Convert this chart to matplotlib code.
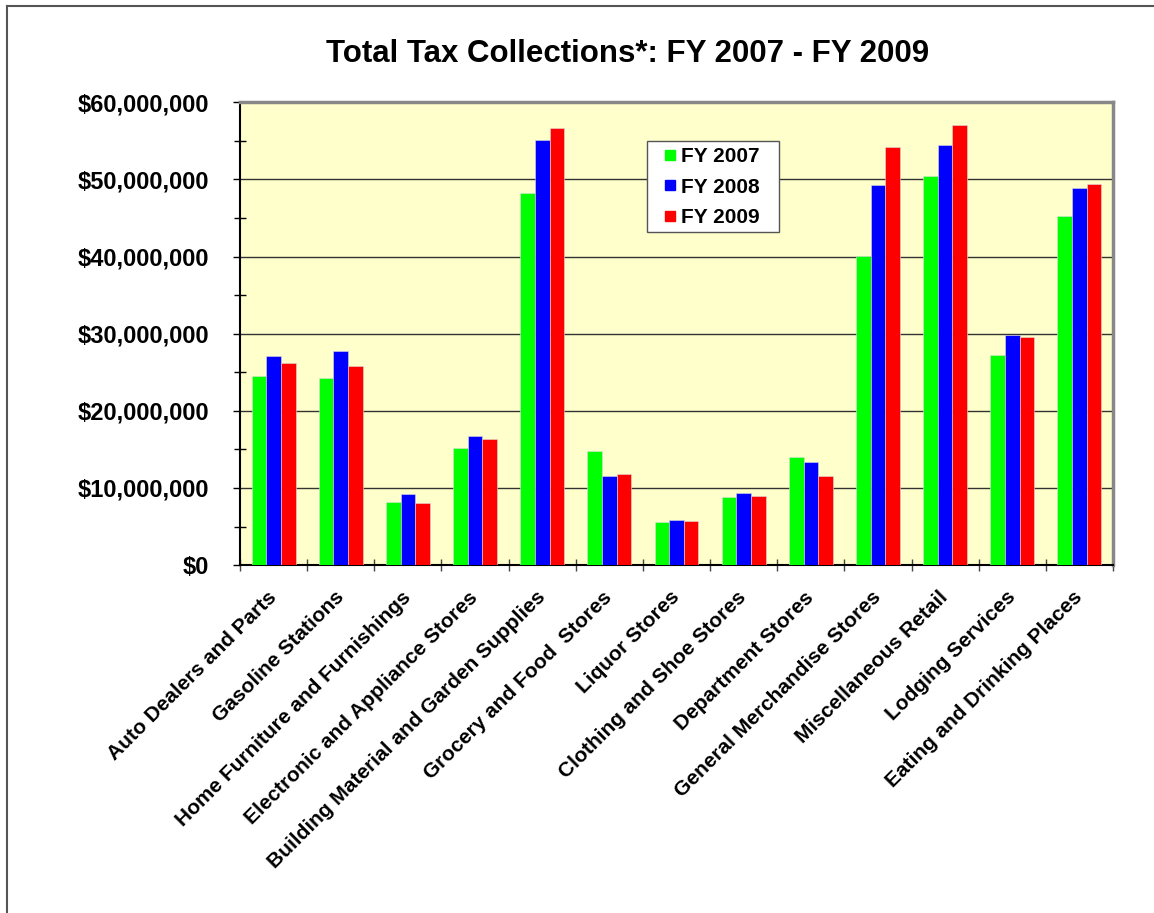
import numpy as np
import matplotlib.pyplot as plt
from matplotlib.lines import Line2D
from matplotlib.patches import Rectangle
from matplotlib.ticker import FuncFormatter, MultipleLocator

# categories and yearly totals
categories = ['Auto Dealers and Parts', 'Gasoline Stations', 'Home Furniture and Furnishings',
              'Electronic and Appliance Stores', 'Building Material and Garden Supplies',
              'Grocery and Food  Stores', 'Liquor Stores', 'Clothing and Shoe Stores',
              'Department Stores', 'General Merchandise Stores', 'Miscellaneous Retail',
              'Lodging Services', 'Eating and Drinking Places']

fy2007 = [24.5e6, 24.3e6, 8.2e6, 15.2e6, 48.3e6, 14.8e6, 5.6e6, 8.8e6, 14.0e6, 40.1e6, 50.5e6, 27.3e6, 45.2e6]
fy2008 = [27.1e6, 27.7e6, 9.2e6, 16.8e6, 55.1e6, 11.6e6, 5.8e6, 9.3e6, 13.4e6, 49.3e6, 54.5e6, 29.8e6, 48.9e6]
fy2009 = [26.2e6, 25.8e6, 8.0e6, 16.3e6, 56.7e6, 11.8e6, 5.7e6, 9.0e6, 11.6e6, 54.2e6, 57.0e6, 29.6e6, 49.4e6]

series = [('FY 2007', fy2007, '#00FF00'), ('FY 2008', fy2008, '#0000FF'), ('FY 2009', fy2009, '#FF0000')]

plt.rcParams['font.family'] = ['Liberation Sans', 'DejaVu Sans']
plt.rcParams['font.weight'] = 'bold'

fig = plt.figure(figsize=(11.54, 9.13), dpi=100)
ax = fig.add_axes([0.208, 0.381, 0.7565, 0.507])
ax.set_facecolor('#FFFFCC')

x = np.arange(len(categories))
w = 0.218
for i, (name, vals, col) in enumerate(series):
    ax.bar(x + (i - 1) * w, vals, w, color=col, edgecolor='#dddddd', linewidth=0.4, zorder=3)

ax.set_xlim(-0.5, len(categories) - 0.5)
ax.set_ylim(0, 60e6)

# y axis: dollars, gridlines every 10M, minor ticks every 5M
ax.yaxis.set_major_locator(MultipleLocator(10e6))
ax.yaxis.set_minor_locator(MultipleLocator(5e6))
ax.yaxis.set_major_formatter(FuncFormatter(lambda v, p: '${:,.0f}'.format(v)))
ax.grid(axis='y', color='#333333', linewidth=1, zorder=1)
ax.tick_params(axis='y', which='major', direction='out', length=5, width=1, labelsize=17, pad=17)
ax.tick_params(axis='y', which='minor', direction='inout', length=8, width=1)

# x ticks sit on category boundaries, labels at centers
ax.set_xticks(np.arange(len(categories) + 1) - 0.5)
ax.set_xticklabels([])
ax.set_xticks(x, minor=True)
ax.set_xticklabels(categories, minor=True, rotation=45, ha='right', va='center',
                   rotation_mode='anchor', fontsize=15)
ax.tick_params(axis='x', which='major', direction='inout', length=9, width=1, color='#444444')
ax.tick_params(axis='x', which='minor', length=0, pad=21)

for s in ['left', 'bottom']:
    ax.spines[s].set_color('black')
    ax.spines[s].set_linewidth(1.5)
for s in ['top', 'right']:
    ax.spines[s].set_color('#888888')
    ax.spines[s].set_linewidth(2.5)

# legend: square markers, frame drawn separately
handles = [Line2D([], [], marker='s', linestyle='none', markersize=7.5, color=c) for _, _, c in series]
ax.legend(handles, [n for n, _, _ in series], loc='center left', bbox_to_anchor=(0.485, 0.8164),
          fontsize=15, frameon=False, handlelength=0.6, handletextpad=0.25, labelspacing=0.55,
          borderpad=0, borderaxespad=0)
ax.add_patch(Rectangle((0.466, 0.719), 0.151, 0.197, transform=ax.transAxes, facecolor='white',
                       edgecolor='#555555', linewidth=1, zorder=4))

fig.text(0.5438, 0.9324, 'Total Tax Collections*: FY 2007 - FY 2009', ha='center', va='baseline',
         fontsize=22.5, fontweight='bold')

# outer chart frame (left and top edges visible)
fig.add_artist(Line2D([0.006, 0.006], [0, 0.9935], transform=fig.transFigure, color='#555555', linewidth=1.5))
fig.add_artist(Line2D([0.006, 1], [0.9935, 0.9935], transform=fig.transFigure, color='#555555', linewidth=1.5))

fig.savefig('out.png', dpi=100)
